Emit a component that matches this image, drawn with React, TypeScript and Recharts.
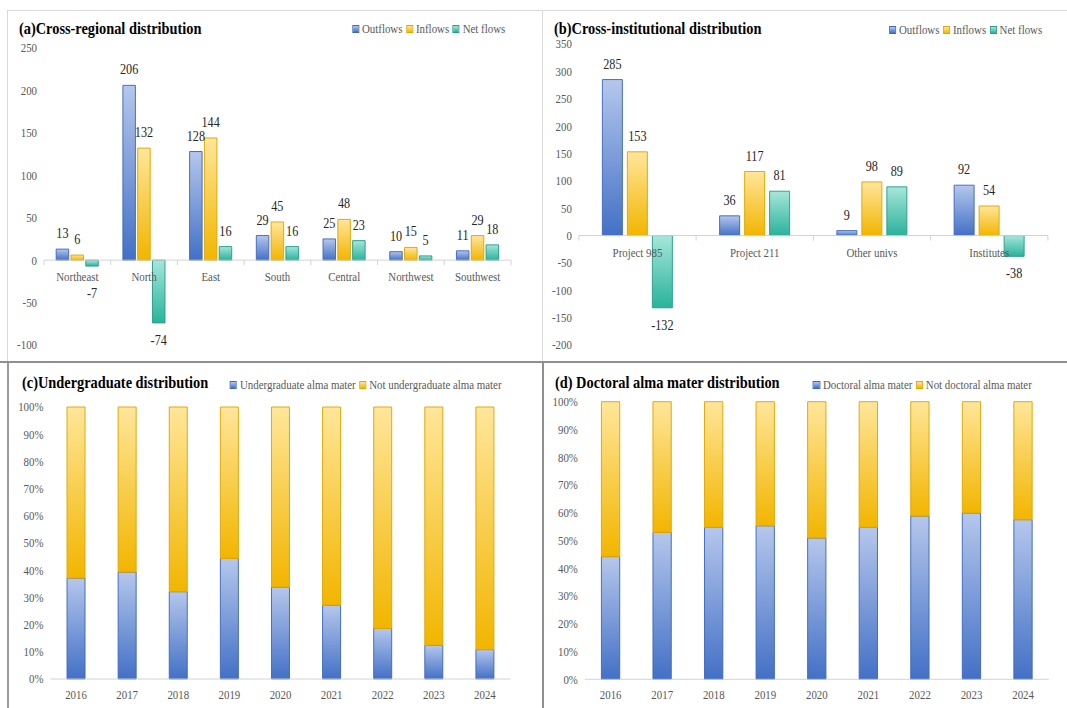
import React from 'react';
import { BarChart, Bar, XAxis, YAxis, ReferenceLine, LabelList, Legend } from 'recharts';

// horizontal squeeze of the reference picture
const SX = 0.87;
const ux = (v: number) => v / SX;
const FONT = '"Liberation Serif", "Times New Roman", serif';

// ---------- (a) Cross-regional distribution ----------
const regions = ['Northeast', 'North', 'East', 'South', 'Central', 'Northwest', 'Southwest'];
const regionOutflows = [13, 206, 128, 29, 25, 10, 11];
const regionInflows = [6, 132, 144, 45, 48, 15, 29];
const regionNet = [-7, -74, 16, 16, 23, 5, 18];
const regionTicks = [-100, -50, 0, 50, 100, 150, 200, 250];

// ---------- (b) Cross-institutional distribution ----------
const institutions = ['Project 985', 'Project 211', 'Other univs', 'Institutes'];
const instOutflows = [285, 36, 9, 92];
const instInflows = [153, 117, 98, 54];
const instNet = [-132, 81, 89, -38];
const instTicks = [-200, -150, -100, -50, 0, 50, 100, 150, 200, 250, 300, 350];

// ---------- (c)/(d) alma mater shares (%) ----------
const years = ['2016', '2017', '2018', '2019', '2020', '2021', '2022', '2023', '2024'];
const undergradShare = [37.1, 39.3, 32.1, 44.3, 33.7, 27.1, 18.6, 12.4, 10.8];
const doctoralShare = [44.2, 52.9, 54.7, 55.3, 50.9, 54.7, 58.8, 59.9, 57.5];
const pctTicks = [0, 10, 20, 30, 40, 50, 60, 70, 80, 90, 100];

const BLUE = { top: '#b5c7ec', bottom: '#4370c6', stroke: '#3e68bb' };
const GOLD = { top: '#ffe69a', bottom: '#f2b500', stroke: '#dea600' };
const TEAL = { top: '#a5e7da', bottom: '#2ab29a', stroke: '#289e89' };

const flowSeries = [
  { key: 'out', name: 'Outflows', c: BLUE },
  { key: 'inf', name: 'Inflows', c: GOLD },
  { key: 'net', name: 'Net flows', c: TEAL },
];

const regionData = regions.map((name, i) => ({
  name, out: regionOutflows[i], inf: regionInflows[i], net: regionNet[i],
}));
const instData = institutions.map((name, i) => ({
  name, out: instOutflows[i], inf: instInflows[i], net: instNet[i],
}));
const ugData = years.map((name, i) => ({ name, a: undergradShare[i], b: 100 - undergradShare[i] }));
const docData = years.map((name, i) => ({ name, a: doctoralShare[i], b: 100 - doctoralShare[i] }));

const TICK = { fontSize: 12.5, fill: '#595959', fontFamily: FONT };

const Grad = ({ id, c }: { id: string; c: { top: string; bottom: string } }) => (
  <linearGradient id={id} x1="0" y1="0" x2="0" y2="1">
    <stop offset="0%" stopColor={c.top} />
    <stop offset="100%" stopColor={c.bottom} />
  </linearGradient>
);

const ValueLabel = (props: any) => {
  const vb = props.viewBox && props.viewBox.width !== undefined ? props.viewBox : props;
  const x = Number(vb.x), y = Number(vb.y), w = Number(vb.width), h = Number(vb.height);
  const v = Number(props.value);
  const top = Math.min(y, y + h);
  const bottom = Math.max(y, y + h);
  const ty = v < 0 ? Math.max(bottom + 22, top + 38) : top - 11;
  return (
    <text x={x + w / 2} y={ty} textAnchor="middle" fontSize={14} fill="#262626" fontFamily={FONT}>
      {v}
    </text>
  );
};

const makeCategoryAxis = (cats: string[]) => (props: any) => {
  const vb = props.viewBox || {};
  const x = Number(vb.x) || 0;
  const y = Number(vb.y) || 0;
  const width = Number(vb.width) || 0;
  const step = width / cats.length;
  return (
    <g>
      {Array.from({ length: cats.length + 1 }, (_, i) => (
        <line key={'t' + i} x1={x + step * i} x2={x + step * i} y1={y} y2={y + 5} stroke="#d0d0d0" />
      ))}
      {cats.map((c, i) => (
        <text key={c} x={x + step * (i + 0.5)} y={y + 21} textAnchor="middle" fontSize={12.5} fill="#595959" fontFamily={FONT}>
          {c}
        </text>
      ))}
    </g>
  );
};

type Sw = { top: string; bottom: string; stroke: string };

const makeLegend = (order: string[], styles: Record<string, Sw>) => (props: any) => {
  const payload = [...(props.payload || [])].sort(
    (p: any, q: any) => order.indexOf(String(p.dataKey)) - order.indexOf(String(q.dataKey)),
  );
  return (
    <div style={{ display: 'flex', alignItems: 'center', height: 15, lineHeight: '15px', fontFamily: FONT, fontSize: 12.5, color: '#595959', whiteSpace: 'nowrap' }}>
      {payload.map((p: any, i: number) => {
        const s = styles[p.dataKey];
        return (
          <span key={i} style={{ display: 'flex', alignItems: 'center', marginRight: ux(3.5) }}>
            <span style={{ display: 'inline-block', width: ux(7), height: 8, boxSizing: 'border-box', border: `1px solid ${s.stroke}`, background: `linear-gradient(${s.top}, ${s.bottom})`, marginRight: ux(3) }} />
            {p.value}
          </span>
        );
      })}
    </div>
  );
};

type FlowProps = {
  id: string; left: number; top: number; width: number; height: number;
  data: any[]; cats: string[]; ticks: number[];
  plot: { left: number; right: number; top: number; bottom: number };
  barSize: number; barGap: number; legendX: number; legendY: number;
};

const FlowChart = (p: FlowProps) => {
  const styles: any = {};
  flowSeries.forEach((s) => (styles[s.key] = s.c));
  const order = flowSeries.map((s) => s.key);
  return (
    <div style={{ position: 'absolute', left: ux(p.left), top: p.top }}>
      <BarChart
        width={ux(p.width)}
        height={p.height}
        data={p.data}
        margin={{ top: p.plot.top, bottom: p.height - p.plot.bottom, left: 0, right: ux(p.width - p.plot.right) }}
        barSize={ux(p.barSize)}
        barGap={ux(p.barGap)}
      >
        <defs>
          {flowSeries.map((s) => <Grad key={s.key} id={`${p.id}-${s.key}`} c={s.c} />)}
        </defs>
        <XAxis dataKey="name" hide />
        <YAxis
          width={ux(p.plot.left)}
          domain={[p.ticks[0], p.ticks[p.ticks.length - 1]]}
          ticks={p.ticks}
          axisLine={false}
          tickLine={false}
          tick={TICK}
          interval={0}
        />
        {flowSeries.map((s) => (
          <Bar key={s.key} dataKey={s.key} name={s.name} fill={`url(#${p.id}-${s.key})`} stroke={s.c.stroke} strokeWidth={1} isAnimationActive={false}>
            <LabelList dataKey={s.key} content={ValueLabel} />
          </Bar>
        ))}
        <ReferenceLine y={0} stroke="#d0d0d0" label={makeCategoryAxis(p.cats)} />
        <Legend
          layout="horizontal"
          align="center"
          verticalAlign="middle"
          content={makeLegend(order, styles)}
          wrapperStyle={{ left: ux(p.legendX), top: p.legendY - 7.5, width: 'auto', right: 'auto', height: 15 }}
        />
      </BarChart>
    </div>
  );
};

type ShareProps = {
  id: string; left: number; top: number; width: number; height: number;
  data: any[]; names: [string, string];
  plot: { left: number; right: number; top: number; bottom: number };
  barSize: number; legendX: number; legendY: number;
};

const ShareChart = (p: ShareProps) => {
  const styles: any = { a: BLUE, b: GOLD };
  return (
    <div style={{ position: 'absolute', left: ux(p.left), top: p.top }}>
      <BarChart
        width={ux(p.width)}
        height={p.height}
        data={p.data}
        margin={{ top: p.plot.top, bottom: p.height - p.plot.bottom - 25, left: 0, right: ux(p.width - p.plot.right) }}
        barSize={ux(p.barSize)}
      >
        <defs>
          <Grad id={`${p.id}-a`} c={BLUE} />
          <Grad id={`${p.id}-b`} c={GOLD} />
        </defs>
        <XAxis dataKey="name" height={25} tick={TICK} tickLine={false} axisLine={{ stroke: '#d0d0d0' }} tickMargin={5} interval={0} />
        <YAxis
          width={ux(p.plot.left)}
          domain={[0, 100]}
          ticks={pctTicks}
          tickFormatter={(v: number) => `${v}%`}
          axisLine={false}
          tickLine={false}
          tick={TICK}
          interval={0}
        />
        <Bar dataKey="a" name={p.names[0]} stackId="s" fill={`url(#${p.id}-a)`} stroke={BLUE.stroke} strokeWidth={1} isAnimationActive={false} />
        <Bar dataKey="b" name={p.names[1]} stackId="s" fill={`url(#${p.id}-b)`} stroke={GOLD.stroke} strokeWidth={1} isAnimationActive={false} />
        <Legend
          layout="horizontal"
          align="center"
          verticalAlign="middle"
          content={makeLegend(['a', 'b'], styles)}
          wrapperStyle={{ left: ux(p.legendX), top: p.legendY - 7.5, width: 'auto', right: 'auto', height: 15 }}
        />
      </BarChart>
    </div>
  );
};

const Title = ({ x, y, text }: { x: number; y: number; text: string }) => (
  <div style={{ position: 'absolute', left: ux(x), top: y - 10, height: 20, lineHeight: '20px', fontFamily: FONT, fontWeight: 700, fontSize: 16.5, color: '#000', whiteSpace: 'nowrap' }}>
    {text}
  </div>
);

const Line = ({ l, t, w, h, c }: { l: number; t: number; w: number; h: number; c: string }) => (
  <div style={{ position: 'absolute', left: l, top: t, width: w, height: h, background: c }} />
);

export default function App() {
  return (
    <div style={{ position: 'absolute', left: 0, top: 0, width: 1067, height: 708, background: '#fff', overflow: 'hidden' }}>
      <div style={{ position: 'absolute', left: 0, top: 0, width: ux(1067), height: 708, transform: `scaleX(${SX})`, transformOrigin: '0 0' }}>
        <FlowChart
          id="ra" left={0} top={0} width={540} height={360}
          data={regionData} cats={regions} ticks={regionTicks}
          plot={{ left: 44, right: 511, top: 48, bottom: 345 }}
          barSize={12.5} barGap={2.3} legendX={352} legendY={29}
        />
        <FlowChart
          id="rb" left={543} top={0} width={524} height={360}
          data={instData} cats={institutions} ticks={instTicks}
          plot={{ left: 36, right: 505, top: 44, bottom: 345 }}
          barSize={20} barGap={5} legendX={889 - 543} legendY={30}
        />
        <ShareChart
          id="rc" left={0} top={364} width={540} height={344}
          data={ugData} names={['Undergraduate alma mater', 'Not undergraduate alma mater']}
          plot={{ left: 50.5, right: 510.5, top: 43, bottom: 315 }}
          barSize={18} legendX={230} legendY={21}
        />
        <ShareChart
          id="rd" left={543} top={364} width={524} height={344}
          data={docData} names={['Doctoral alma mater', 'Not doctoral alma mater']}
          plot={{ left: 42, right: 506, top: 37.7, bottom: 315.3 }}
          barSize={18.3} legendX={813 - 543} legendY={21}
        />
        <Title x={19} y={29} text="(a)Cross-regional distribution" />
        <Title x={554} y={28.5} text="(b)Cross-institutional distribution" />
        <Title x={22} y={383} text="(c)Undergraduate distribution" />
        <Title x={555} y={383} text="(d) Doctoral alma mater distribution" />
      </div>
      <Line l={7} t={10} w={1060} h={1} c="#d9d9d9" />
      <Line l={7} t={10} w={1} h={351} c="#d9d9d9" />
      <Line l={542} t={10} w={1} h={351} c="#d9d9d9" />
      <Line l={0} t={360.5} w={1067} h={2.5} c="#8f8f8f" />
      <Line l={7} t={363} w={1.5} h={345} c="#9a9a9a" />
      <Line l={541.5} t={363} w={2} h={345} c="#8f8f8f" />
    </div>
  );
}
